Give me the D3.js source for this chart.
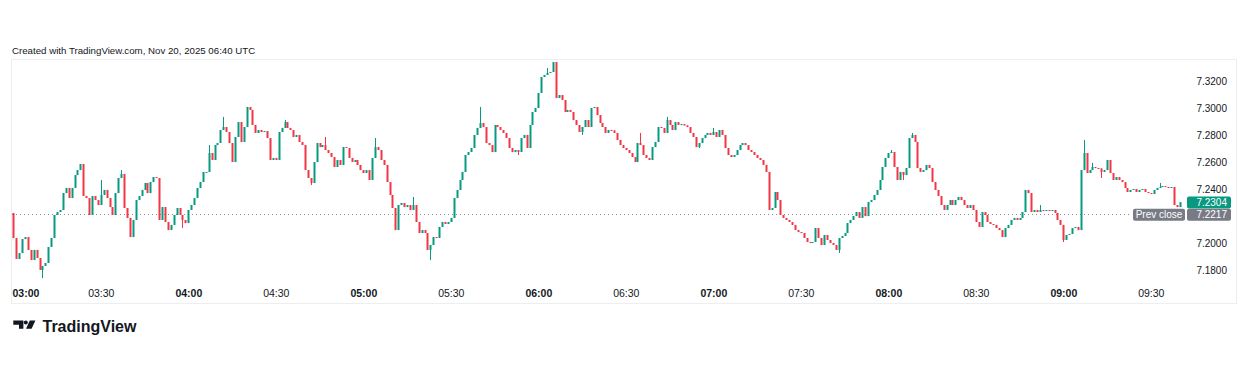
<!DOCTYPE html>
<html>
<head>
<meta charset="utf-8">
<script src="https://cdn.jsdelivr.net/npm/d3@7"></script>
<style>
  body { margin: 0; background: #fff; }
  svg { display: block; font-family: "Liberation Sans", Arial, sans-serif; }
</style>
</head>
<body>
<svg id="chart" width="1244" height="382"></svg>
<script>
const title = "Created with TradingView.com, Nov 20, 2025 06:40 UTC";
const startTime = "2025-11-20T03:00:00Z";   // first 1-minute bar (chart time)
const firstOpen = 7.2224;

// 1-minute closes, 03:00 .. 09:40
const closes = [
  7.2038, 7.1882, 7.1926, 7.2030, 7.2045, 7.1949, 7.1874, 7.1949, 7.1889, 7.1800,
  7.1830, 7.1852, 7.1971, 7.2038, 7.2209, 7.2231, 7.2246, 7.2372, 7.2410, 7.2335,
  7.2410, 7.2506, 7.2543, 7.2588, 7.2350, 7.2335, 7.2209, 7.2350, 7.2320, 7.2283,
  7.2358, 7.2395, 7.2335, 7.2268, 7.2209, 7.2372, 7.2484, 7.2514, 7.2261, 7.2187,
  7.2045, 7.2172, 7.2320, 7.2350, 7.2395, 7.2447, 7.2372, 7.2454, 7.2491, 7.2484,
  7.2172, 7.2268, 7.2157, 7.2097, 7.2135, 7.2209, 7.2261, 7.2209, 7.2172, 7.2149,
  7.2246, 7.2283, 7.2335, 7.2410, 7.2454, 7.2529, 7.2529, 7.2670, 7.2618, 7.2729,
  7.2744, 7.2841, 7.2863, 7.2826, 7.2744, 7.2603, 7.2789, 7.2900, 7.2752, 7.2863,
  7.3012, 7.2990, 7.2878, 7.2819, 7.2841, 7.2826, 7.2833, 7.2781, 7.2618, 7.2633,
  7.2618, 7.2826, 7.2856, 7.2900, 7.2856, 7.2841, 7.2789, 7.2804, 7.2752, 7.2729,
  7.2543, 7.2484, 7.2447, 7.2603, 7.2744, 7.2714, 7.2729, 7.2692, 7.2670, 7.2640,
  7.2566, 7.2618, 7.2581, 7.2714, 7.2707, 7.2633, 7.2603, 7.2618, 7.2581, 7.2543,
  7.2521, 7.2543, 7.2469, 7.2633, 7.2714, 7.2692, 7.2618, 7.2581, 7.2454, 7.2358,
  7.2261, 7.2097, 7.2283, 7.2298, 7.2268, 7.2283, 7.2246, 7.2283, 7.2157, 7.2075,
  7.2097, 7.2075, 7.1949, 7.1986, 7.2045, 7.2038, 7.2120, 7.2157, 7.2142, 7.2157,
  7.2187, 7.2335, 7.2395, 7.2469, 7.2529, 7.2655, 7.2677, 7.2707, 7.2804, 7.2856,
  7.2893, 7.2863, 7.2744, 7.2729, 7.2677, 7.2878, 7.2863, 7.2841, 7.2819, 7.2781,
  7.2707, 7.2677, 7.2692, 7.2677, 7.2781, 7.2804, 7.2707, 7.2878, 7.2975, 7.3004,
  7.3116, 7.3235, 7.3250, 7.3265, 7.3272, 7.3346, 7.3079, 7.3101, 7.3064, 7.2975,
  7.2990, 7.2975, 7.2915, 7.2878, 7.2826, 7.2863, 7.2915, 7.2863, 7.3004, 7.3012,
  7.2952, 7.2893, 7.2863, 7.2819, 7.2841, 7.2838, 7.2819, 7.2767, 7.2729, 7.2707,
  7.2692, 7.2670, 7.2640, 7.2603, 7.2744, 7.2729, 7.2655, 7.2633, 7.2618, 7.2714,
  7.2752, 7.2863, 7.2856, 7.2819, 7.2915, 7.2878, 7.2841, 7.2900, 7.2878, 7.2885,
  7.2875, 7.2863, 7.2819, 7.2789, 7.2714, 7.2744, 7.2781, 7.2804, 7.2819, 7.2804,
  7.2826, 7.2789, 7.2841, 7.2804, 7.2707, 7.2655, 7.2640, 7.2655, 7.2692, 7.2729,
  7.2744, 7.2729, 7.2692, 7.2677, 7.2655, 7.2633, 7.2618, 7.2581, 7.2529, 7.2246,
  7.2261, 7.2380, 7.2320, 7.2209, 7.2187, 7.2172, 7.2157, 7.2135, 7.2097, 7.2082,
  7.2075, 7.2038, 7.2008, 7.2001, 7.2008, 7.2112, 7.2038, 7.1986, 7.2060, 7.2023,
  7.2001, 7.1986, 7.1949, 7.2038, 7.2053, 7.2075, 7.2149, 7.2172, 7.2201, 7.2231,
  7.2187, 7.2268, 7.2201, 7.2306, 7.2320, 7.2358, 7.2395, 7.2469, 7.2566, 7.2633,
  7.2670, 7.2677, 7.2566, 7.2469, 7.2529, 7.2506, 7.2558, 7.2781, 7.2804, 7.2752,
  7.2558, 7.2529, 7.2543, 7.2581, 7.2558, 7.2454, 7.2395, 7.2350, 7.2283, 7.2246,
  7.2283, 7.2320, 7.2283, 7.2320, 7.2343, 7.2320, 7.2283, 7.2261, 7.2283, 7.2246,
  7.2157, 7.2120, 7.2231, 7.2209, 7.2157, 7.2142, 7.2135, 7.2112, 7.2097, 7.2045,
  7.2112, 7.2135, 7.2172, 7.2187, 7.2172, 7.2187, 7.2231, 7.2395, 7.2372, 7.2231,
  7.2246, 7.2231, 7.2246, 7.2239, 7.2246, 7.2239, 7.2246, 7.2224, 7.2172, 7.2135,
  7.2023, 7.2060, 7.2068, 7.2112, 7.2120, 7.2097, 7.2543, 7.2670, 7.2521, 7.2543,
  7.2566, 7.2558, 7.2555, 7.2529, 7.2543, 7.2618, 7.2521, 7.2469, 7.2491, 7.2469,
  7.2454, 7.2410, 7.2380, 7.2395, 7.2402, 7.2380, 7.2395, 7.2402, 7.2380, 7.2372,
  7.2365, 7.2395, 7.2410, 7.2417, 7.2424, 7.2417, 7.2410, 7.2417, 7.2283, 7.2268,
  7.2304
];

// wicks that reach beyond the body: [bar index, high, low]
const wicks = [
  [10, null, 7.1740], [30, 7.2469, null], [37, 7.2543, null], [58, null, 7.2112],
  [67, 7.2729, null], [72, 7.2938, null], [93, 7.2915, null], [102, null, 7.2432],
  [107, 7.2789, null], [124, 7.2781, null], [137, 7.2343, null], [143, null, 7.1874],
  [160, 7.3012, null], [173, null, 7.2655], [183, 7.3302, null], [195, null, 7.2804],
  [215, 7.2819, null], [224, 7.2938, null], [235, null, 7.2707], [240, 7.2856, null],
  [283, null, 7.1926], [301, 7.2692, null], [305, null, 7.2469], [308, 7.2819, null],
  [352, 7.2283, null], [360, null, 7.2008], [367, 7.2767, null], [370, 7.2596, null],
  [373, null, 7.2484], [393, 7.2447, null]
];

const priceTicks = [7.18, 7.20, 7.22, 7.24, 7.26, 7.28, 7.30, 7.32];
const prevClose = 7.2217;
const lastPrice = 7.2304;

const green = "#089981", red = "#F23645", textColor = "#131722";

const t0 = new Date(startTime);
const candles = closes.map((c, i) => {
  const o = i === 0 ? firstOpen : closes[i - 1];
  return { t: d3.utcMinute.offset(t0, i), o: o, c: c, h: Math.max(o, c), l: Math.min(o, c) };
});
wicks.forEach(([i, h, l]) => {
  if (h != null) candles[i].h = Math.max(candles[i].h, h);
  if (l != null) candles[i].l = Math.min(candles[i].l, l);
});

const svg = d3.select("#chart");

const x = d3.scaleUtc()
  .domain([t0, d3.utcMinute.offset(t0, 400)])
  .range([13.3, 13.3 + 400 * 175 / 60]);
const y = d3.scaleLinear().domain([7.18, 7.32]).range([270, 81.7]);

// header
svg.append("text")
  .attr("x", 12).attr("y", 54)
  .attr("font-size", 9.7).attr("fill", textColor)
  .text(title);

// pane frame
svg.append("rect")
  .attr("x", 11.5).attr("y", 59.5).attr("width", 1225).attr("height", 244)
  .attr("fill", "none").attr("stroke", "#eceef2");

// prev close dotted line
svg.append("line")
  .attr("x1", 12).attr("x2", 1132)
  .attr("y1", Math.round(y(prevClose)) + 0.5).attr("y2", Math.round(y(prevClose)) + 0.5)
  .attr("stroke", "#8a8d96").attr("stroke-dasharray", "1,3");

// candles
const bars = svg.append("g").selectAll("g").data(candles).join("g");
bars.append("line")
  .attr("x1", d => Math.round(x(d.t)) + 0.5).attr("x2", d => Math.round(x(d.t)) + 0.5)
  .attr("y1", d => y(d.h)).attr("y2", d => y(d.l))
  .attr("stroke", d => d.c >= d.o ? green : red);
bars.append("rect")
  .attr("x", d => Math.round(x(d.t)) - 0.5)
  .attr("width", 2)
  .attr("y", d => y(Math.max(d.o, d.c)))
  .attr("height", d => Math.max(1, Math.abs(y(d.o) - y(d.c))))
  .attr("fill", d => d.c >= d.o ? green : red);

// time axis
const fmt = d3.utcFormat("%H:%M");
const timeAxis = svg.append("g")
  .attr("transform", "translate(0,289.5)")
  .call(d3.axisBottom(x).ticks(d3.utcMinute.every(30)).tickFormat(fmt).tickSize(0).tickPadding(0));
timeAxis.select(".domain").remove();
timeAxis.selectAll("text")
  .attr("font-family", "Liberation Sans, Arial, sans-serif")
  .attr("font-size", 10.5)
  .attr("fill", textColor)
  .attr("font-weight", d => d.getUTCMinutes() === 0 ? "bold" : "normal")
  .attr("x", function (d) {
    const w = this.getComputedTextLength();
    const cx = x(d);
    return cx - w / 2 < 12 ? 12 + w / 2 - cx : 0;
  });

// price axis
const labelYs = [y(lastPrice), y(prevClose)];
const priceAxis = svg.append("g")
  .attr("transform", "translate(1227,0)")
  .call(d3.axisLeft(y).tickValues(priceTicks.filter(p => labelYs.every(v => Math.abs(y(p) - v) > 9)))
    .tickFormat(d3.format(".4f")).tickSize(0).tickPadding(0));
priceAxis.select(".domain").remove();
priceAxis.selectAll("text")
  .attr("font-family", "Liberation Sans, Arial, sans-serif")
  .attr("font-size", 10).attr("fill", textColor);

// price labels
function priceLabel(yc, text, fill) {
  svg.append("rect").attr("x", 1187).attr("y", yc - 6).attr("width", 44).attr("height", 12)
    .attr("rx", 2).attr("fill", fill);
  svg.append("text").attr("x", 1227).attr("y", yc).attr("dy", "0.35em")
    .attr("text-anchor", "end").attr("font-size", 10).attr("fill", "#fff").text(text);
}
priceLabel(y(lastPrice) + 0.3, d3.format(".4f")(lastPrice), green);
const pcY = y(prevClose) + 0.8;
priceLabel(pcY, d3.format(".4f")(prevClose), "#787B86");
svg.append("rect").attr("x", 1133).attr("y", pcY - 6).attr("width", 52).attr("height", 12)
  .attr("rx", 2).attr("fill", "#787B86");
svg.append("text").attr("x", 1159).attr("y", pcY).attr("dy", "0.35em")
  .attr("text-anchor", "middle").attr("font-size", 10).attr("fill", "#fff").text("Prev close");

// TradingView logo
const logo = svg.append("g").attr("fill", textColor);
logo.append("path").attr("d", "M13.3,320.6 H23.4 V328.8 H19 V324.8 H13.3 Z");
logo.append("circle").attr("cx", 25.8).attr("cy", 322.6).attr("r", 2);
logo.append("path").attr("d", "M29.8,320.6 H35.4 L31.6,328.8 H26 Z");
logo.append("text").attr("x", 42.5).attr("y", 331.5)
  .attr("font-size", 16).attr("font-weight", "bold")
  .text("TradingView");
</script>
</body>
</html>
